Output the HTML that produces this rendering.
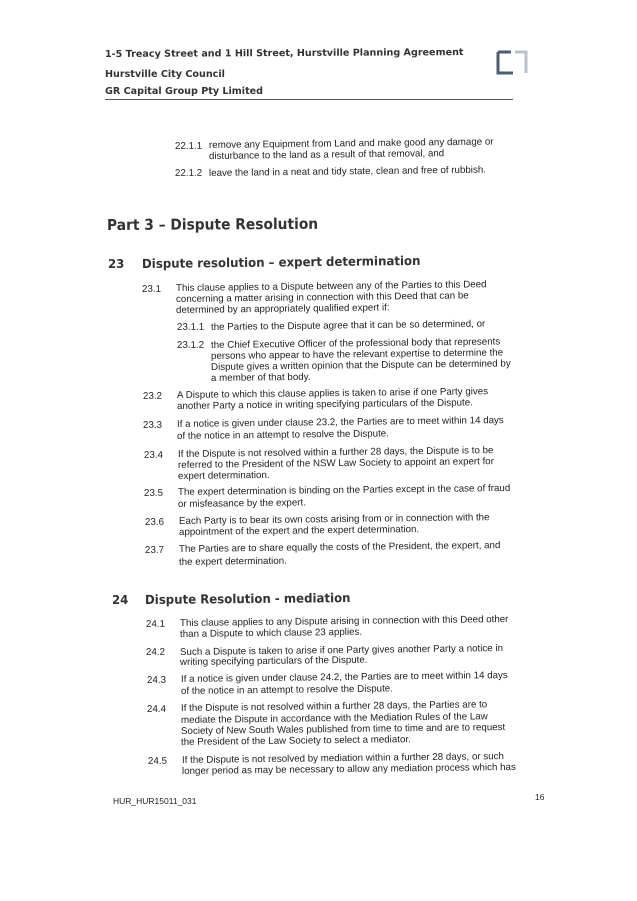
<!DOCTYPE html>
<html><head><meta charset="utf-8"><style>
body{margin:0;background:#fff;}
#p{position:relative;width:637px;height:901px;overflow:hidden;background:#fff;font-family:"Liberation Sans",Arial,sans-serif;color:#222;}
.l{position:absolute;white-space:nowrap;font-size:9.75px;line-height:12px;transform:rotate(-0.7deg);transform-origin:left center;}
.h{position:absolute;white-space:nowrap;font-family:"DejaVu Sans",sans-serif;font-weight:bold;color:#333;transform-origin:left center;}
</style></head><body><div id="p">
<div class="h" style="left:105px;top:49px;font-size:9.6px;line-height:12px;transform:rotate(-0.3deg);">1-5 Treacy Street and 1 Hill Street, Hurstville Planning Agreement</div>
<div class="h" style="left:105px;top:69px;font-size:9.6px;line-height:12px;">Hurstville City Council</div>
<div class="h" style="left:105px;top:86px;font-size:9.6px;line-height:12px;">GR Capital Group Pty Limited</div>
<div style="position:absolute;left:105px;top:99px;width:408px;height:1px;background:#555;"></div>
<svg style="position:absolute;left:495px;top:49px" width="36" height="28">
<path d="M3 3 H16 M3 3 V24 H18" stroke="#4d5d70" stroke-width="3" fill="none"/>
<path d="M20 3 H31 V24" stroke="#b8c0c8" stroke-width="3" fill="none"/>
</svg>

<div class="l" style="left:175px;top:141px">22.1.1</div><div class="l" style="left:209px;top:140px">remove any Equipment from Land and make good any damage or</div>
<div class="l" style="left:209px;top:151px">disturbance to the land as a result of that removal, and</div>
<div class="l" style="left:175px;top:168px">22.1.2</div><div class="l" style="left:209px;top:168px">leave the land in a neat and tidy state, clean and free of rubbish.</div>

<div class="h" style="left:107px;top:216px;font-size:15px;line-height:18px;transform:scaleX(0.92) rotate(-0.3deg);">Part 3 – Dispute Resolution</div>
<div class="h" style="left:108px;top:256px;font-size:12.5px;line-height:16px;transform:scaleX(0.94);">23</div>
<div class="h" style="left:142px;top:256px;font-size:12.5px;line-height:16px;transform:scaleX(0.94) rotate(-0.6deg);">Dispute resolution – expert determination</div>

<div class="l" style="left:142px;top:284px">23.1</div>
<div class="l" style="left:176px;top:283px">This clause applies to a Dispute between any of the Parties to this Deed</div>
<div class="l" style="left:176px;top:294px">concerning a matter arising in connection with this Deed that can be</div>
<div class="l" style="left:176px;top:305px">determined by an appropriately qualified expert if:</div>
<div class="l" style="left:177px;top:322px">23.1.1</div><div class="l" style="left:211px;top:322px">the Parties to the Dispute agree that it can be so determined, or</div>
<div class="l" style="left:177px;top:340px">23.1.2</div>
<div class="l" style="left:211px;top:340px">the Chief Executive Officer of the professional body that represents</div>
<div class="l" style="left:211px;top:351px">persons who appear to have the relevant expertise to determine the</div>
<div class="l" style="left:211px;top:362px">Dispute gives a written opinion that the Dispute can be determined by</div>
<div class="l" style="left:211px;top:373px">a member of that body.</div>
<div class="l" style="left:143px;top:391px">23.2</div>
<div class="l" style="left:177px;top:390px">A Dispute to which this clause applies is taken to arise if one Party gives</div>
<div class="l" style="left:177px;top:401px">another Party a notice in writing specifying particulars of the Dispute.</div>
<div class="l" style="left:143px;top:420px">23.3</div>
<div class="l" style="left:177px;top:419px">If a notice is given under clause 23.2, the Parties are to meet within 14 days</div>
<div class="l" style="left:177px;top:431px">of the notice in an attempt to resolve the Dispute.</div>
<div class="l" style="left:144px;top:450px">23.4</div>
<div class="l" style="left:178px;top:449px">If the Dispute is not resolved within a further 28 days, the Dispute is to be</div>
<div class="l" style="left:178px;top:460px">referred to the President of the NSW Law Society to appoint an expert for</div>
<div class="l" style="left:178px;top:471px">expert determination.</div>
<div class="l" style="left:144px;top:488px">23.5</div>
<div class="l" style="left:178px;top:487px">The expert determination is binding on the Parties except in the case of fraud</div>
<div class="l" style="left:178px;top:499px">or misfeasance by the expert.</div>
<div class="l" style="left:145px;top:517px">23.6</div>
<div class="l" style="left:179px;top:516px">Each Party is to bear its own costs arising from or in connection with the</div>
<div class="l" style="left:179px;top:527px">appointment of the expert and the expert determination.</div>
<div class="l" style="left:145px;top:545px">23.7</div>
<div class="l" style="left:179px;top:544px">The Parties are to share equally the costs of the President, the expert, and</div>
<div class="l" style="left:179px;top:557px">the expert determination.</div>

<div class="h" style="left:112px;top:592px;font-size:12.5px;line-height:16px;transform:scaleX(0.94);">24</div>
<div class="h" style="left:145px;top:592px;font-size:12.5px;line-height:16px;transform:scaleX(0.94) rotate(-0.5deg);">Dispute Resolution - mediation</div>

<div class="l" style="left:146px;top:619px">24.1</div>
<div class="l" style="left:180px;top:618px">This clause applies to any Dispute arising in connection with this Deed other</div>
<div class="l" style="left:180px;top:629px">than a Dispute to which clause 23 applies.</div>
<div class="l" style="left:146px;top:647px">24.2</div>
<div class="l" style="left:180px;top:647px">Such a Dispute is taken to arise if one Party gives another Party a notice in</div>
<div class="l" style="left:180px;top:657px">writing specifying particulars of the Dispute.</div>
<div class="l" style="left:147px;top:675px">24.3</div>
<div class="l" style="left:181px;top:674px">If a notice is given under clause 24.2, the Parties are to meet within 14 days</div>
<div class="l" style="left:181px;top:686px">of the notice in an attempt to resolve the Dispute.</div>
<div class="l" style="left:147px;top:704px">24.4</div>
<div class="l" style="left:181px;top:703px">If the Dispute is not resolved within a further 28 days, the Parties are to</div>
<div class="l" style="left:181px;top:715px">mediate the Dispute in accordance with the Mediation Rules of the Law</div>
<div class="l" style="left:181px;top:726px">Society of New South Wales published from time to time and are to request</div>
<div class="l" style="left:181px;top:737px">the President of the Law Society to select a mediator.</div>
<div class="l" style="left:148px;top:756px">24.5</div>
<div class="l" style="left:182px;top:755px">If the Dispute is not resolved by mediation within a further 28 days, or such</div>
<div class="l" style="left:182px;top:766px">longer period as may be necessary to allow any mediation process which has</div>

<div class="l" style="left:113px;top:795px;font-size:8.5px;transform:none">HUR_HUR15011_031</div>
<div class="l" style="left:535px;top:791px;font-size:8.5px;transform:none">16</div>
</div></body></html>
